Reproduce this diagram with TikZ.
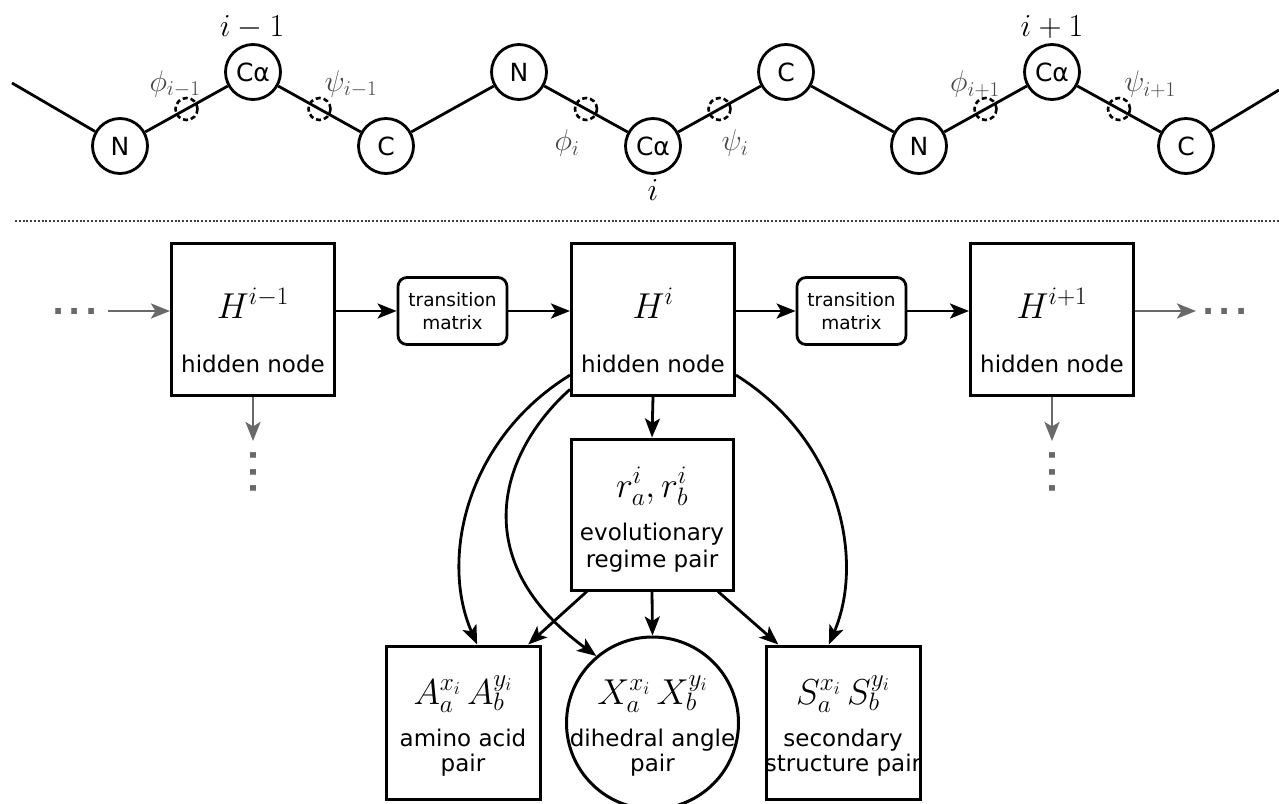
\RequirePackage{fix-cm}
\documentclass[tikz,border=0pt]{standalone}
\usepackage[no-math]{fontspec}
\setmainfont{DejaVu Sans}
\usetikzlibrary{arrows.meta,calc}
\definecolor{grayA}{RGB}{105,105,105}
\definecolor{lblgray}{RGB}{70,70,70}
\begin{document}
\begin{tikzpicture}[x=1pt,y=-1pt,
  atom/.style={circle,draw,line width=2.8pt,minimum size=55pt,inner sep=0pt,font=\fontsize{25}{25}\selectfont},
  tors/.style={circle,draw,line width=2.6pt,dash pattern=on 5pt off 3pt,minimum size=22pt,inner sep=0pt},
  bond/.style={line width=2.8pt},
  box/.style={draw,line width=3pt,inner sep=0pt},
  hbox/.style={box,minimum width=163pt,minimum height=152pt},
  obox/.style={box,minimum width=154pt,minimum height=153pt},
  tbox/.style={draw,line width=2.8pt,rounded corners=9pt,minimum width=109pt,minimum height=67pt,inner sep=0pt,align=center,font=\fontsize{18.5}{23}\selectfont},
  mathlbl/.style={anchor=base,inner sep=0pt,font=\fontsize{36}{36}\selectfont},
  txtlbl/.style={anchor=base,inner sep=0pt,font=\fontsize{23}{27}\selectfont},
  toplbl/.style={inner sep=0pt,font=\fontsize{32}{32}\selectfont},
  anglbl/.style={inner sep=0pt,text=lblgray,font=\fontsize{30}{30}\selectfont},
  arr/.style={line width=2.8pt,-{Stealth[length=19pt,width=15pt,inset=4.5pt]}},
  garr/.style={line width=2.8pt,draw=grayA,-{Stealth[length=19pt,width=15pt,inset=4.5pt,color=grayA]}},
  dots/.style={inner sep=0pt,text=grayA,font=\fontsize{32}{32}\selectfont\bfseries},
  sep/.style={line width=2.2pt,draw=black!75,dash pattern=on 2pt off 1.8pt}
]
\useasboundingbox (0,0) rectangle (1279,803);

% ---------- backbone chain ----------
\node[atom] (N1)  at (120,146) {N};
\node[atom] (Ca1) at (253,72)  {Cα};
\node[atom] (C1)  at (386,146) {C};
\node[atom] (N2)  at (519,72)  {N};
\node[atom] (Ca2) at (653,146) {Cα};
\node[atom] (C2)  at (786,72)  {C};
\node[atom] (N3)  at (919,146) {N};
\node[atom] (Ca3) at (1052,72) {Cα};
\node[atom] (C3)  at (1186,146) {C};
\coordinate (le) at (12,83);
\coordinate (re) at (1279,90);

\draw[bond] (le) -- (N1);
\draw[bond] (N1) -- (Ca1);
\draw[bond] (Ca1) -- (C1);
\draw[bond] (C1) -- (N2);
\draw[bond] (N2) -- (Ca2);
\draw[bond] (Ca2) -- (C2);
\draw[bond] (C2) -- (N3);
\draw[bond] (N3) -- (Ca3);
\draw[bond] (Ca3) -- (C3);
\draw[bond] (C3) -- (re);

\node[tors] (p1) at ($(N1)!0.5!(Ca1)$) {};
\node[tors] (s1) at ($(Ca1)!0.5!(C1)$) {};
\node[tors] (p2) at ($(N2)!0.5!(Ca2)$) {};
\node[tors] (s2) at ($(Ca2)!0.5!(C2)$) {};
\node[tors] (p3) at ($(N3)!0.5!(Ca3)$) {};
\node[tors] (s3) at ($(Ca3)!0.5!(C3)$) {};

\node[toplbl] (l1) at (252,27) {$i-1$};
\node[toplbl] (l2) at (653,190) {$i$};
\node[toplbl] (l3) at (1052,27) {$i+1$};
\node[anglbl] (lp1) at (175,84) {$\phi_{i-1}$};
\node[anglbl] (ls1) at (351,84) {$\psi_{i-1}$};
\node[anglbl] (lp2) at (567,143) {$\phi_{i}$};
\node[anglbl] (ls2) at (735,143) {$\psi_{i}$};
\node[anglbl] (lp3) at (975,84) {$\phi_{i+1}$};
\node[anglbl] (ls3) at (1150,84) {$\psi_{i+1}$};

% ---------- separator ----------
\draw[sep] (15,221) -- (1279,221);

% ---------- hidden chain ----------
\node[hbox] (H1) at (253,319) {};
\node[hbox] (H2) at (653,319) {};
\node[hbox] (H3) at (1052,319) {};
\node[mathlbl] (H1m) at (253,318) {$H^{i-1}$};
\node[txtlbl]  (H1t) at (253,372) {hidden node};
\node[mathlbl] (H2m) at (653,318) {$H^{i}$};
\node[txtlbl]  (H2t) at (653,372) {hidden node};
\node[mathlbl] (H3m) at (1052,318) {$H^{i+1}$};
\node[txtlbl]  (H3t) at (1052,372) {hidden node};

\node[tbox] (T1) at (452.5,311) {transition\\matrix};
\node[tbox] (T2) at (851.5,311) {transition\\matrix};

\draw[arr] (H1.east |- T1.west) -- (T1.west);
\draw[arr] (T1.east) -- (H2.west |- T1.east);
\draw[arr] (H2.east |- T2.west) -- (T2.west);
\draw[arr] (T2.east) -- (H3.west |- T2.east);

% continuation dots and grey arrows
\node[dots] (ld) at (75,311) {.\kern4.5pt.\kern4.5pt.};
\node[dots] (rd) at (1225,311) {.\kern4.5pt.\kern4.5pt.};
\node[dots,rotate=90] (d1) at (253,472) {.\kern4.5pt.\kern4.5pt.};
\node[dots,rotate=90] (d3) at (1052,472) {.\kern4.5pt.\kern4.5pt.};
\coordinate (lin) at (108,311);
\coordinate (rout) at (1196,311);
\coordinate (dn1) at (253,441);
\coordinate (dn3) at (1052,441);
\draw[garr] (lin) -- (lin -| H1.west);
\draw[garr] (H3.east |- rout) -- (rout);
\draw[garr] (H1.south) -- (dn1);
\draw[garr] (H3.south) -- (dn3);

% ---------- emission structure ----------
\node[hbox,minimum width=162pt,minimum height=151pt] (R) at (652,514.5) {};
\node[mathlbl] (Rm) at (652,497) {$r_a^i, r_b^i$};
\node[txtlbl]  (Rt1) at (652,540) {evolutionary};
\node[txtlbl]  (Rt2) at (652,567) {regime pair};

\node[obox] (A) at (463,722.5) {};
\node[mathlbl] (Am) at (463,704) {$A_a^{x_i}\,A_b^{y_i}$};
\node[txtlbl]  (At1) at (463,746) {amino acid};
\node[txtlbl]  (At2) at (463,771) {pair};

\node[circle,draw,line width=3pt,minimum size=172pt,inner sep=0pt] (X) at (652.5,723) {};
\node[mathlbl] (Xm) at (652.5,704) {$X_a^{x_i}\,X_b^{y_i}$};
\node[txtlbl]  (Xt1) at (652.5,746) {dihedral angle};
\node[txtlbl]  (Xt2) at (652.5,771) {pair};

\node[obox] (S) at (843,722.5) {};
\node[mathlbl] (Sm) at (843,704) {$S_a^{x_i}\,S_b^{y_i}$};
\node[txtlbl]  (St1) at (843,746) {secondary};
\node[txtlbl]  (St2) at (843,771) {structure pair};

\draw[arr] (H2.south) -- (R.north);
\draw[arr] ($(R.south west)!0.105!(R.south east)$) -- ($(A.north west)!0.915!(A.north east)$);
\draw[arr] (R.south) -- (X.north);
\draw[arr] ($(R.south west)!0.9!(R.south east)$) -- ($(S.north west)!0.088!(S.north east)$);

\draw[arr] ($(H2.north west)!0.862!(H2.south west)$) .. controls (465,440) and (440,560) .. ($(A.north west)!0.59!(A.north east)$);
\draw[arr] ($(H2.north west)!0.954!(H2.south west)$) .. controls (500,452) and (465,560) .. (X.130);
\draw[arr] ($(H2.north east)!0.862!(H2.south east)$) .. controls (840,440) and (865,560) .. ($(S.north west)!0.41!(S.north east)$);
\end{tikzpicture}
\end{document}
